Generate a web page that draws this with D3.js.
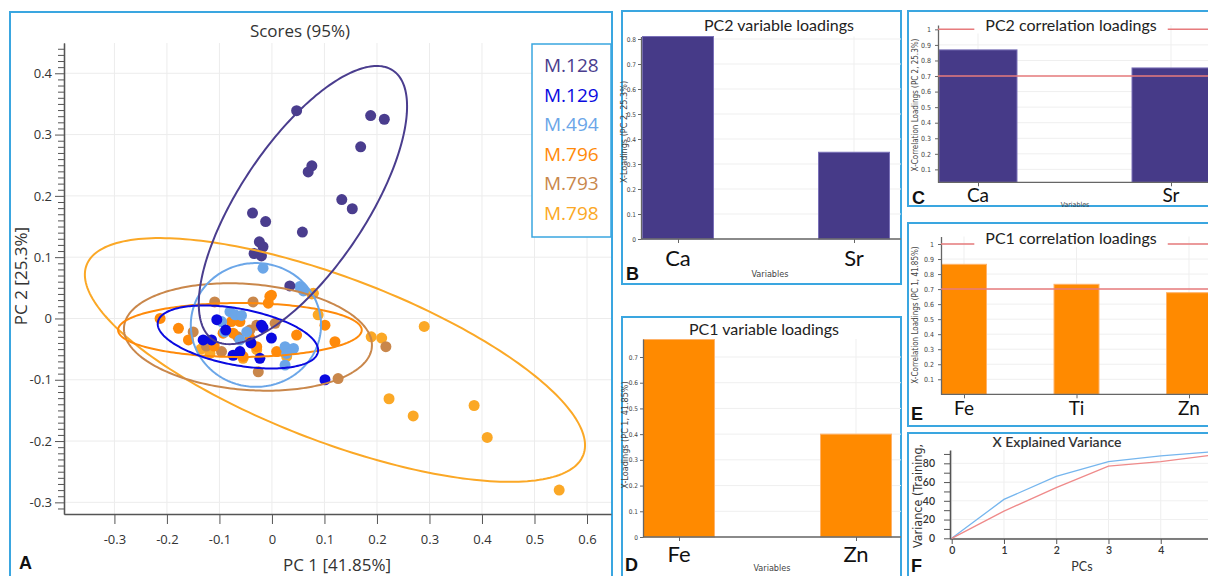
<!DOCTYPE html>
<html>
<head>
<meta charset="utf-8">
<script src="https://cdn.jsdelivr.net/npm/d3@7"></script>
<style>
  body { margin: 0; background: #fff; }
  svg { display: block; font-family: "Open Sans", sans-serif; }
</style>
</head>
<body>
<svg id="fig" width="1208" height="576"></svg>
<script>
// ---------- data ----------
const groups = ["M.128", "M.129", "M.494", "M.796", "M.793", "M.798"]

// PCA scores [PC1, PC2] per group
const scoresM128 = [[0.047,0.339],[0.188,0.331],[0.214,0.325],[0.169,0.280],[0.076,0.249],[0.069,0.239],
  [0.133,0.194],[0.153,0.179],[-0.037,0.172],[-0.012,0.158],[0.058,0.141],[-0.024,0.125],[-0.017,0.117],
  [-0.034,0.106],[-0.020,0.102],[0.034,0.053]]
const scoresM129 = [[-0.105,-0.002],[-0.131,-0.035],[-0.115,-0.035],[-0.074,-0.060],[-0.061,-0.054],
  [-0.020,-0.011],[-0.017,-0.015],[-0.001,-0.032],[-0.023,-0.065],[0.101,-0.100],[-0.088,-0.019],[-0.040,-0.040]]
const scoresM494 = [[-0.017,0.082],[0.053,0.052],[0.060,0.045],[-0.080,0.011],[-0.070,0.006],[-0.096,-0.005],
  [-0.090,-0.022],[-0.061,-0.035],[-0.048,-0.022],[0.025,-0.046],[0.041,-0.049],[0.025,-0.076],[0.028,-0.057],[-0.058,0.005]]
const scoresM796 = [[-0.213,0.000],[-0.178,-0.016],[-0.159,-0.035],[-0.077,-0.005],[-0.061,-0.005],[-0.093,-0.024],
  [-0.074,-0.024],[-0.042,-0.032],[-0.004,0.036],[-0.007,0.025],[0.047,-0.027],[0.101,-0.011],[0.120,-0.038],
  [0.009,-0.054],[-0.029,-0.046],[-0.055,-0.062],[-0.001,0.038],[-0.110,-0.045]]
const scoresM793 = [[-0.109,0.027],[-0.036,0.027],[-0.150,-0.022],[-0.096,-0.054],[-0.042,-0.019],[-0.029,-0.011],
  [0.006,-0.008],[-0.026,-0.087],[0.126,-0.098],[0.217,-0.046],[-0.125,-0.045],[-0.065,-0.030]]
const scoresM798 = [[0.290,-0.013],[0.189,-0.030],[0.209,-0.032],[0.223,-0.131],[0.269,-0.159],[0.385,-0.142],
  [0.410,-0.194],[0.547,-0.280],[0.076,0.040],[0.088,0.006],[0.079,0.041],[-0.118,-0.057],[-0.055,-0.065],
  [-0.029,-0.051],[0.028,-0.062],[-0.135,-0.050]]
const scores = [scoresM128, scoresM129, scoresM494, scoresM796, scoresM793, scoresM798]

// 95% ellipses: centre, major and minor semi-axis vectors (score units)
const ellipseCentre = [[0.059,0.185],[-0.0648,-0.0302],[-0.0305,-0.0106],[-0.061,-0.0188],[-0.0457,-0.0302],[0.12,-0.0677]]
const ellipseMajor  = [[0.1714,0.2196],[0.1524,-0.0245],[0.124,0],[0.232,0],[0.236,-0.0163],[0.473,-0.1548]]
const ellipseMinor  = [[0.0998,-0.0571],[-0.0099,-0.0452],[0,0.101],[0,0.044],[-0.0082,-0.0861],[-0.0556,-0.1248]]

const pc1Ticks = [-0.3,-0.2,-0.1,0,0.1,0.2,0.3,0.4,0.5,0.6]
const pc2Ticks = [-0.3,-0.2,-0.1,0,0.1,0.2,0.3,0.4]

const pc2LoadVars = ["Ca", "Sr"], pc2LoadVals = [0.81, 0.347]
const pc1LoadVars = ["Fe", "Zn"], pc1LoadVals = [0.768, 0.40]
const pc2CorrVars = ["Ca", "Sr"], pc2CorrVals = [0.868, 0.752]
const pc1CorrVars = ["Fe", "Ti", "Zn"], pc1CorrVals = [0.865, 0.732, 0.676]
const corrLimits = [1, 0.7]

const pcs = [0, 1, 2, 3, 4, 5]
const varCalibration = [0, 41.5, 66, 81.7, 88, 92.4]
const varValidation = [0, 29, 54, 77, 81.7, 88.8]

// ---------- styles ----------
const groupColor = ["#4a3d8e", "#0a0ae0", "#6ba6e8", "#ff8a0a", "#c9874b", "#fba826"]
const BORDER = "#3aa6e0"
const NARROW = "'Liberation Sans Narrow','DejaVu Sans Condensed','Arial Narrow',sans-serif"
const LABEL = "Lato, 'Open Sans', sans-serif"

const svg = d3.select("#fig")

function box(x, y, w, h) {
    svg.append("rect").attr("x", x).attr("y", y).attr("width", w).attr("height", h)
        .attr("fill", "none").attr("stroke", BORDER).attr("stroke-width", 2)
}
function letter(t, x, y) {
    svg.append("text").attr("x", x).attr("y", y).text(t)
        .attr("font-family", "'Liberation Sans', Arial, sans-serif")
        .attr("font-weight", "bold").attr("font-size", 18).attr("fill", "#111")
}
function styleAxis(sel, col) {
    sel.select(".domain").attr("stroke", col).attr("stroke-width", 1.3)
    sel.selectAll(".tick line").attr("stroke", col)
}
const fmt1 = d => d === 0 ? "0" : (d === 1 ? "1" : d.toFixed(1))

// ---------- A: scores ----------
function drawScores() {
    box(10, 12, 602, 590)
    const g = svg.append("g")
    const x = d3.scaleLinear().domain([-0.396, 0.6457]).range([64, 611])
    const y = d3.scaleLinear().domain([-0.319, 0.4494]).range([514, 43])

    g.selectAll(".gx").data(pc1Ticks).join("line")
        .attr("x1", d => x(d)).attr("x2", d => x(d)).attr("y1", 43).attr("y2", 514)
        .attr("stroke", "#ececec")
    g.selectAll(".gy").data(pc2Ticks).join("line")
        .attr("x1", 64).attr("x2", 611).attr("y1", d => y(d)).attr("y2", d => y(d))
        .attr("stroke", "#ececec")

    const xa = g.append("g").attr("transform", "translate(0,514)")
        .call(d3.axisBottom(x).tickValues(pc1Ticks).tickSize(10).tickPadding(11)
            .tickSizeOuter(0).tickFormat(fmt1))
    const minor = d3.range(-31, 45).filter(i => i % 10 !== 0).map(i => i / 100)
    g.append("g").attr("transform", "translate(64,0)")
        .call(d3.axisLeft(y).tickValues(minor).tickSize(6).tickSizeOuter(0).tickFormat(""))
        .call(s => styleAxis(s, "#555"))
    const ya = g.append("g").attr("transform", "translate(64,0)")
        .call(d3.axisLeft(y).tickValues(pc2Ticks).tickSize(9).tickPadding(3)
            .tickSizeOuter(0).tickFormat(fmt1))
    ;[xa, ya].forEach(a => {
        styleAxis(a, "#555")
        a.selectAll("text").attr("font-size", 13).attr("fill", "#333")
            .attr("font-family", "'Open Sans', sans-serif")
    })

    // points
    const order = [5, 4, 3, 2, 1, 0]
    order.forEach(k => {
        g.selectAll(".p" + k).data(scores[k]).join("circle")
            .attr("cx", d => x(d[0])).attr("cy", d => y(d[1])).attr("r", 5.5)
            .attr("fill", groupColor[k])
    })

    // ellipses
    const line = d3.line().x(d => x(d[0])).y(d => y(d[1])).curve(d3.curveLinearClosed)
    order.forEach(k => {
        const c = ellipseCentre[k], a = ellipseMajor[k], b = ellipseMinor[k]
        const pts = d3.range(0, 240).map(i => {
            const t = i / 240 * 2 * Math.PI
            return [c[0] + a[0] * Math.cos(t) + b[0] * Math.sin(t),
                    c[1] + a[1] * Math.cos(t) + b[1] * Math.sin(t)]
        })
        g.append("path").attr("d", line(pts)).attr("fill", "none")
            .attr("stroke", groupColor[k]).attr("stroke-width", 2)
    })

    svg.append("text").attr("x", 300).attr("y", 37).attr("text-anchor", "middle")
        .attr("font-size", 17).attr("fill", "#333").text("Scores (95%)")
    svg.append("text").attr("transform", "translate(27,276) rotate(-90)").attr("text-anchor", "middle")
        .attr("font-size", 17).attr("fill", "#333").text("PC 2 [25.3%]")
    svg.append("text").attr("x", 337).attr("y", 571).attr("text-anchor", "middle")
        .attr("font-size", 17).attr("fill", "#333").text("PC 1 [41.85%]")
    letter("A", 19, 569)

    // legend
    svg.append("rect").attr("x", 532).attr("y", 44).attr("width", 79).attr("height", 193)
        .attr("fill", "#fff").attr("stroke", BORDER).attr("stroke-width", 1.5)
    svg.selectAll(".leg").data(groups).join("text")
        .attr("x", 544).attr("y", (d, i) => 72 + i * 29.6)
        .attr("font-size", 19).attr("fill", (d, i) => groupColor[i]).text(d => d)
}

// ---------- bar panels ----------
function barPanel(o) {
    box(...o.box)
    const g = svg.append("g")
    const y = d3.scaleLinear().domain(o.yDomain).range(o.yRange)
    const x = d3.scalePoint().domain(o.vars).range(o.centres)
    const base = o.yRange[0]

    g.selectAll(".gh").data(o.ticks).join("line")
        .attr("x1", o.axisX).attr("x2", o.right).attr("y1", d => y(d)).attr("y2", d => y(d))
        .attr("stroke", "#efefef")
    g.selectAll(".gv").data(o.vars).join("line")
        .attr("x1", d => x(d)).attr("x2", d => x(d)).attr("y1", o.yRange[1]).attr("y2", base)
        .attr("stroke", "#efefef")

    g.selectAll(".bar").data(o.vals).join("rect")
        .attr("x", (d, i) => x(o.vars[i]) - o.barW / 2).attr("width", o.barW)
        .attr("y", d => y(d)).attr("height", d => base - y(d))
        .attr("fill", o.color).attr("stroke", o.edge).attr("stroke-width", 1)

    const xa = g.append("g").attr("transform", `translate(0,${base})`)
        .call(d3.axisBottom(x).tickSize(4).tickFormat("").tickSizeOuter(0))
    xa.select(".domain").attr("d", `M${o.axisX},0H${o.right}`)
    styleAxis(xa, "#666")
    const ya = g.append("g").attr("transform", `translate(${o.axisX},0)`)
        .call(d3.axisLeft(y).tickValues(o.ticks).tickSize(3).tickPadding(o.tickPad)
            .tickSizeOuter(0).tickFormat(fmt1))
    styleAxis(ya, "#666")
    ya.selectAll("text").attr("font-size", o.tickFont).attr("font-family", NARROW).attr("fill", "#444")

    if (o.limits) {
        g.selectAll(".lim").data(o.limits).join("line")
            .attr("x1", o.axisX).attr("x2", o.right).attr("y1", d => y(d)).attr("y2", d => y(d))
            .attr("stroke", "#e77b7d").attr("stroke-width", 1.5)
    }

    const tg = svg.append("g")
    const tt = tg.append("text").attr("x", o.title[1]).attr("y", o.title[2]).attr("text-anchor", "middle")
        .attr("font-family", LABEL).attr("font-size", 16).attr("fill", "#222").text(o.title[0])
    if (o.limits) {
        const bb = tt.node().getBBox()
        tg.insert("rect", "text").attr("x", bb.x - 11).attr("y", bb.y).attr("width", bb.width + 22)
            .attr("height", bb.height).attr("fill", "#fff")
    }

    svg.selectAll(null).data(o.vars).join("text")
        .attr("x", d => x(d)).attr("y", o.catY).attr("text-anchor", "middle")
        .attr("font-family", LABEL).attr("font-size", o.catFont).attr("fill", "#111").text(d => d)

    svg.append("text").attr("transform", `translate(${o.yLabel[1]},${o.yLabel[2]}) rotate(-90)`)
        .attr("text-anchor", "middle").attr("font-family", NARROW).attr("font-size", o.yLabel[3])
        .attr("fill", "#444").text(o.yLabel[0])
    if (o.xLabel) {
        svg.append("text").attr("x", o.xLabel[0]).attr("y", o.xLabel[1]).attr("text-anchor", "middle")
            .attr("font-family", NARROW).attr("font-size", o.xLabel[2]).attr("fill", "#444").text("Variables")
    }
    letter(o.letter[0], o.letter[1], o.letter[2])
}

// ---------- F: explained variance ----------
function drawVariance() {
    box(908, 433, 310, 160)
    const g = svg.append("g")
    const x = d3.scaleLinear().domain([0, 5]).range([951.7, 1213])
    const y = d3.scaleLinear().domain([0, 94]).range([538.3, 450.2])
    const yMajor = [0, 20, 40, 60, 80]

    g.selectAll(".gv").data(pcs).join("line")
        .attr("x1", d => x(d)).attr("x2", d => x(d)).attr("y1", 450).attr("y2", 538.3).attr("stroke", "#eee")
    g.selectAll(".gh").data(yMajor).join("line")
        .attr("x1", 950).attr("x2", 1215).attr("y1", d => y(d)).attr("y2", d => y(d)).attr("stroke", "#f0f0f0")

    const xa = g.append("g").attr("transform", "translate(0,539)")
        .call(d3.axisBottom(x).tickValues(pcs).tickSize(5).tickPadding(3).tickSizeOuter(0)
            .tickFormat(d3.format("d")))
    xa.select(".domain").attr("d", "M950,0H1215")
    g.append("g").attr("transform", "translate(950,0)")
        .call(d3.axisLeft(y).tickValues([10, 30, 50, 70, 90]).tickSize(6).tickSizeOuter(0).tickFormat(""))
        .call(s => styleAxis(s, "#555"))
    const ya = g.append("g").attr("transform", "translate(950,0)")
        .call(d3.axisLeft(y).tickValues(yMajor).tickSize(6).tickPadding(9).tickSizeOuter(0))
    ;[xa, ya].forEach(a => {
        styleAxis(a, "#555")
        a.selectAll("text").attr("font-size", 10.5).attr("font-weight", 600).attr("fill", "#333")
            .attr("font-family", LABEL)
    })

    const line = d3.line().x((d, i) => x(pcs[i])).y(d => y(d))
    g.append("path").attr("d", line(varCalibration)).attr("fill", "none")
        .attr("stroke", "#76b6ee").attr("stroke-width", 1.3)
    g.append("path").attr("d", line(varValidation)).attr("fill", "none")
        .attr("stroke", "#ef8a8a").attr("stroke-width", 1.3)

    svg.append("text").attr("x", 1057).attr("y", 446.5).attr("text-anchor", "middle")
        .attr("font-family", LABEL).attr("font-weight", 600).attr("font-size", 14).attr("fill", "#333")
        .text("X Explained Variance")
    svg.append("text").attr("x", 1082).attr("y", 571).attr("text-anchor", "middle")
        .attr("font-family", LABEL).attr("font-size", 12.5).attr("fill", "#333").text("PCs")
    svg.append("text").attr("transform", "translate(922,496) rotate(-90)").attr("text-anchor", "middle")
        .attr("font-family", NARROW).attr("font-size", 12.5).attr("fill", "#333").text("Variance (Training,")
    letter("F", 911, 572)
}

drawScores()

barPanel({
    box: [622, 11, 279, 273], vars: pc2LoadVars, vals: pc2LoadVals,
    color: "#463a88", edge: "#7a70b8",
    yDomain: [0, 0.81], yRange: [239, 36.5], centres: [678, 854], barW: 71,
    axisX: 641, right: 901, ticks: d3.range(0, 9).map(i => i / 10), tickPad: 2, tickFont: 6.5,
    title: ["PC2 variable loadings", 779, 31], catY: 266, catFont: 22,
    yLabel: ["X-Loadings (PC 2, 25.3%)", 627, 132, 9], xLabel: [770, 277, 9],
    letter: ["B", 626, 280]
})

barPanel({
    box: [908, 11, 310, 195], vars: pc2CorrVars, vals: pc2CorrVals,
    color: "#463a88", edge: "#7a70b8", limits: corrLimits,
    yDomain: [0.017, 1.028], yRange: [182.3, 25], centres: [978, 1171], barW: 78,
    axisX: 938, right: 1215, ticks: d3.range(1, 11).map(i => i / 10), tickPad: 4, tickFont: 7,
    title: ["PC2 correlation loadings", 1071, 30.5], catY: 202, catFont: 19,
    yLabel: ["X-Correlation Loadings (PC 2, 25.3%)", 918, 105, 8], xLabel: [1075, 207, 7],
    letter: ["C", 912, 204]
})

barPanel({
    box: [622, 317, 279, 275], vars: pc1LoadVars, vals: pc1LoadVals,
    color: "#ff8a00", edge: "#ffb36a",
    yDomain: [0, 0.77], yRange: [537, 339], centres: [679, 856], barW: 71,
    axisX: 643, right: 901, ticks: d3.range(0, 8).map(i => i / 10), tickPad: 2, tickFont: 6.5,
    title: ["PC1 variable loadings", 764, 335], catY: 562, catFont: 22,
    yLabel: ["X-Loadings (PC 1, 41.85%)", 628, 435, 9], xLabel: [772, 571, 9],
    letter: ["D", 625, 571]
})

barPanel({
    box: [908, 223, 310, 203], vars: pc1CorrVars, vals: pc1CorrVals,
    color: "#ff8a00", edge: "#ffb36a", limits: corrLimits,
    yDomain: [0, 1.05], yRange: [394.3, 236.5], centres: [964, 1189], barW: 45,
    axisX: 941, right: 1215, ticks: d3.range(1, 11).map(i => i / 10), tickPad: 4, tickFont: 7,
    title: ["PC1 correlation loadings", 1071, 244], catY: 415, catFont: 19,
    yLabel: ["X-Correlation Loadings (PC 1, 41.85%)", 918, 315, 8],
    letter: ["E", 911, 420]
})

drawVariance()
</script>
</body>
</html>
